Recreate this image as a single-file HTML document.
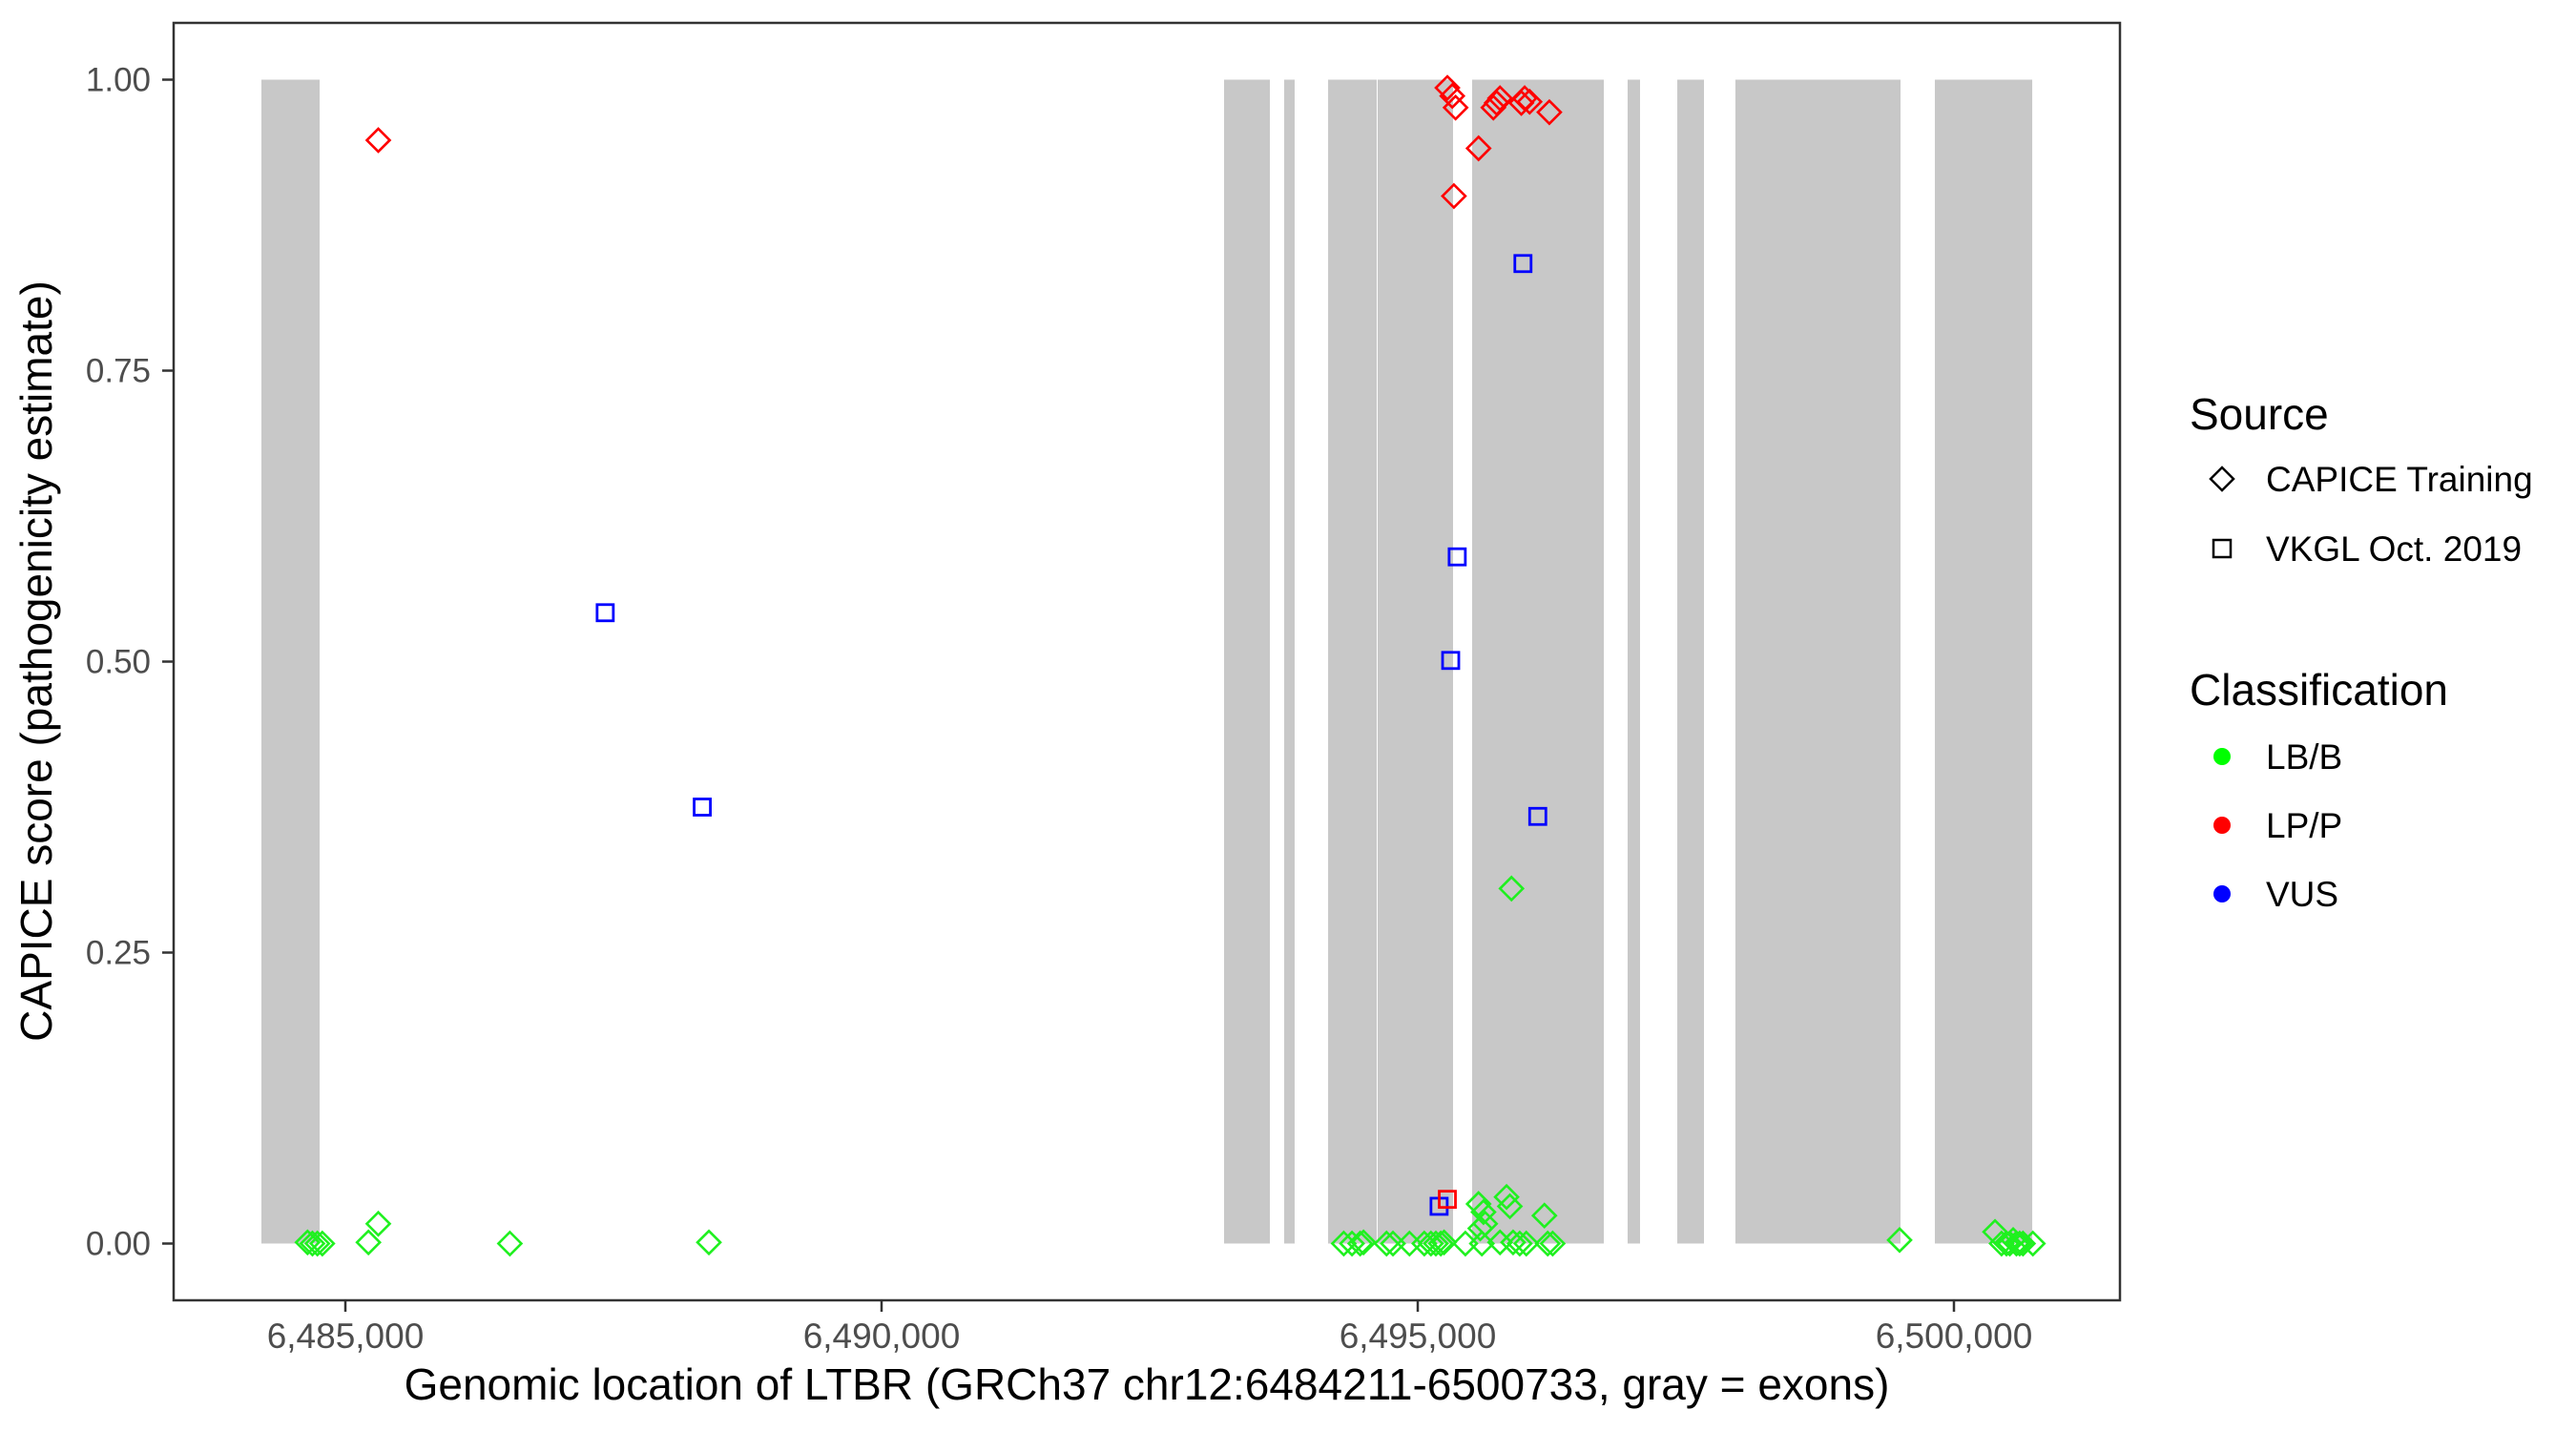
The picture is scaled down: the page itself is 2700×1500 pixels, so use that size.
<!DOCTYPE html>
<html><head><meta charset="utf-8"><style>
html,body{margin:0;padding:0;background:#fff;}
svg{display:block;font-family:"Liberation Sans",Arial,sans-serif;}
</style></head><body>
<svg id="chart" width="2700" height="1500" viewBox="0 0 2700 1500" xmlns="http://www.w3.org/2000/svg">
<rect x="0" y="0" width="2700" height="1500" fill="#fff"/>
<g id="exons"></g>
<g id="points"></g>
<rect x="182" y="24" width="2040" height="1339" fill="none" stroke="#333" stroke-width="2.5"/>
<g id="axes"></g>
<text x="1202" y="1467" font-size="46" text-anchor="middle" fill="#000">Genomic location of LTBR (GRCh37 chr12:6484211-6500733, gray = exons)</text>
<text transform="translate(54,693) rotate(-90)" font-size="46" text-anchor="middle" fill="#000">CAPICE score (pathogenicity estimate)</text>
<g>
<text x="2295" y="450" font-size="46" fill="#000">Source</text>
<path d="M2329 490 L2341 502 L2329 514 L2317 502 Z" fill="none" stroke="#000" stroke-width="2.5"/>
<text x="2375" y="515" font-size="37" fill="#000">CAPICE Training</text>
<rect x="2320" y="566" width="18" height="18" fill="none" stroke="#000" stroke-width="2.5"/>
<text x="2375" y="588" font-size="37" fill="#000">VKGL Oct. 2019</text>
<text x="2295" y="739" font-size="46" fill="#000">Classification</text>
<circle cx="2329" cy="793" r="9" fill="#00ff00"/>
<text x="2375" y="806" font-size="37" fill="#000">LB/B</text>
<circle cx="2329" cy="865" r="9" fill="#ff0000"/>
<text x="2375" y="878" font-size="37" fill="#000">LP/P</text>
<circle cx="2329" cy="937" r="9" fill="#0000ff"/>
<text x="2375" y="950" font-size="37" fill="#000">VUS</text>
</g>
</svg>
<script>
const exonStarts=[6484217,6493194,6493754,6494164,6494626,6495507,6496957,6497420,6497962,6499822];
const exonEnds=[6484760,6493621,6493852,6494617,6495329,6496735,6497073,6497669,6499502,6500730];
const xTicks=[6485000,6490000,6495000,6500000];
const xTickLabels=["6,485,000","6,490,000","6,495,000","6,500,000"];
const yTicks=[0,0.25,0.5,0.75,1];
const yTickLabels=["0.00","0.25","0.50","0.75","1.00"];
// red diamonds (CAPICE, LP/P)
const lppDiaPos=[6485307,6495276,6495322,6495353,6495337,6495567,6495705,6495736,6495767,6495966,6495997,6496043,6496227];
const lppDiaScore=[0.948,0.993,0.986,0.976,0.900,0.941,0.976,0.980,0.984,0.980,0.984,0.981,0.972];
// blue squares (VKGL, VUS)
const vusSqPos=[6495981,6487423,6488328,6495368,6495307,6496119,6495199];
const vusSqScore=[0.842,0.542,0.375,0.590,0.501,0.367,0.032];
// red square (VKGL, LP/P)
const lppSqPos=[6495276];
const lppSqScore=[0.038];
// green diamonds (CAPICE, LB/B)
const lbbDiaPos=[6495874,6484647,6484693,6484739,6484785,6485215,6485307,6486534,6488390,
6494310,6494387,6494463,6494494,6494709,6494769,6494923,6495061,6495123,6495169,6495215,6495245,
6495567,6495613,6495583,6495629,6495828,6495859,6496181,6495444,6495598,6495767,6495889,6495951,6496012,6496212,6496258,
6499493,6500383,6500444,6500490,6500521,6500552,6500583,6500613,6500644,6500736];
const lbbDiaScore=[0.305,0.001,0,0,0,0.001,0.017,0,0.001,
0,0,0,0.001,0,0,0,0,0,0,0,0.001,
0.034,0.027,0.013,0.017,0.040,0.032,0.024,0,0,0.001,0.001,0,0,0,0,
0.003,0.010,0,0,0,0.003,0,0,0,0];

const NS="http://www.w3.org/2000/svg";
function X(v){return 362+(v-6485000)*(2048-362)/15000;}
function Y(s){return 1303.5-s*1220;}
function el(tag,attrs,parent){const e=document.createElementNS(NS,tag);for(const k in attrs)e.setAttribute(k,attrs[k]);parent.appendChild(e);return e;}
const gEx=document.getElementById('exons'),gP=document.getElementById('points'),gA=document.getElementById('axes');
for(let i=0;i<exonStarts.length;i++){
  const r=el('rect',{x:X(exonStarts[i]),y:Y(1),width:X(exonEnds[i])-X(exonStarts[i]),height:Y(0)-Y(1),fill:'#c8c8c8'},gEx);
  
  
}
for(let i=0;i<xTicks.length;i++){
  const t=el('line',{x1:X(xTicks[i]),x2:X(xTicks[i]),y1:1363,y2:1375,stroke:'#333','stroke-width':2.5},gA);
  
  
  const l=el('text',{x:X(xTicks[i]),y:1413,'font-size':37,'text-anchor':'middle',fill:'#4d4d4d'},gA);
  l.textContent=xTickLabels[i];
  
  
}
for(let i=0;i<yTicks.length;i++){
  const t=el('line',{x1:170,x2:182,y1:Y(yTicks[i]),y2:Y(yTicks[i]),stroke:'#333','stroke-width':2.5},gA);
  
  
  const l=el('text',{x:158,y:Y(yTicks[i])+12,'font-size':35,'text-anchor':'end',fill:'#4d4d4d'},gA);
  l.textContent=yTickLabels[i];
  
  
}
function diamond(x,y,c){
  const d=12;
  const p=el('path',{d:`M${x} ${y-d} L${x+d} ${y} L${x} ${y+d} L${x-d} ${y} Z`,fill:'none',stroke:c,'stroke-width':2.6},gP);
  
  
}
function square(x,y,c){
  const h=8.5;
  const p=el('rect',{x:x-h,y:y-h,width:2*h,height:2*h,fill:'none',stroke:c,'stroke-width':2.8},gP);
  
  
}
for(let i=0;i<lbbDiaPos.length;i++)diamond(X(lbbDiaPos[i]),Y(lbbDiaScore[i]),'#1ff01f');
for(let i=0;i<lppDiaPos.length;i++)diamond(X(lppDiaPos[i]),Y(lppDiaScore[i]),'#ff0000');
for(let i=0;i<vusSqPos.length;i++)square(X(vusSqPos[i]),Y(vusSqScore[i]),'#0000ff');
for(let i=0;i<lppSqPos.length;i++)square(X(lppSqPos[i]),Y(lppSqScore[i]),'#ff0000');
</script>
</body></html>
